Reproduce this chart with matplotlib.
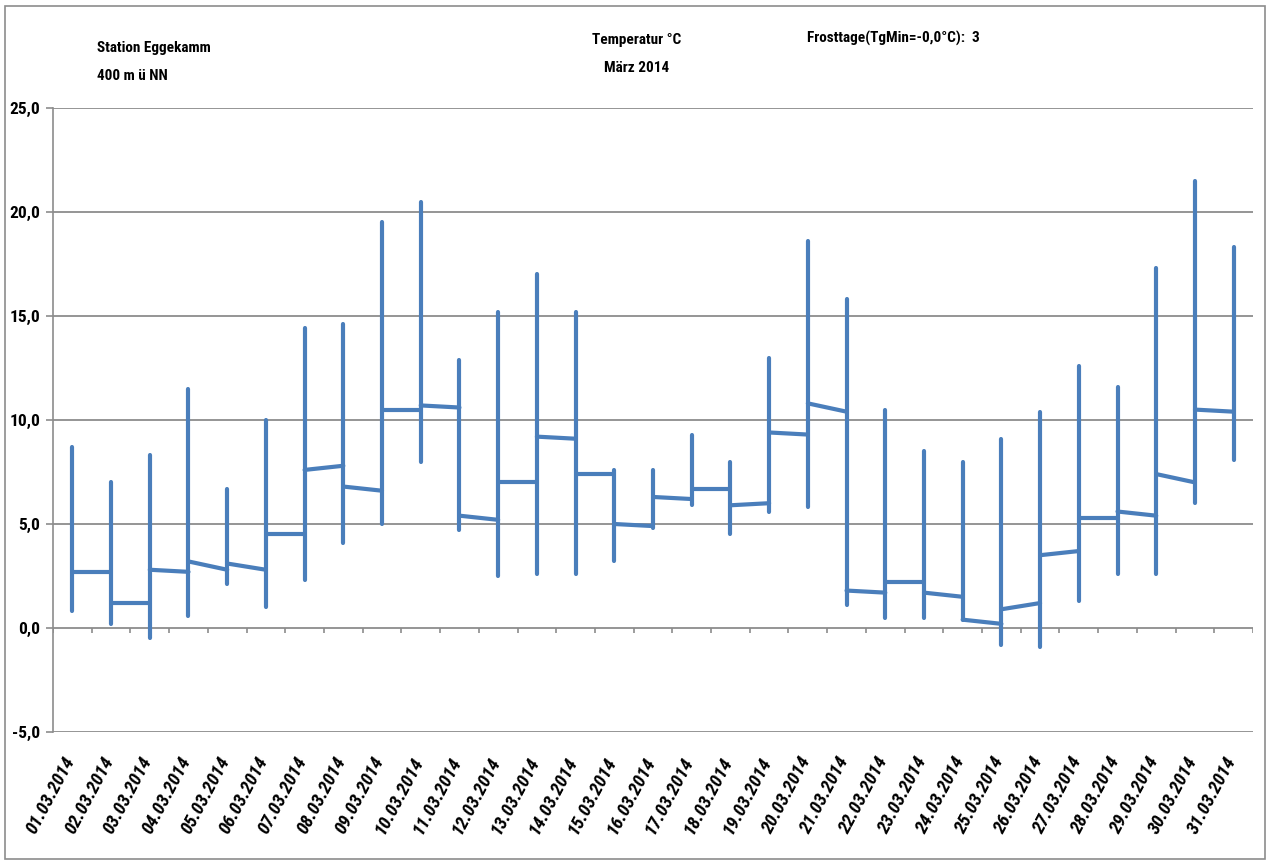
import matplotlib.pyplot as plt
import matplotlib.transforms as mtransforms
from matplotlib.patches import Rectangle

# daily values, Station Eggekamm, March 2014
dates = [f"{d:02d}.03.2014" for d in range(1, 32)]
t_max = [8.7, 7.0, 8.3, 11.5, 6.7, 10.0, 14.4, 14.6, 19.5, 20.5,
         12.9, 15.2, 17.0, 15.2, 7.6, 7.6, 9.3, 8.0, 13.0, 18.6,
         15.8, 10.5, 8.5, 8.0, 9.1, 10.4, 12.6, 11.6, 17.3, 21.5, 18.3]
t_min = [0.8, 0.2, -0.5, 0.6, 2.1, 1.0, 2.3, 4.1, 5.0, 8.0,
         4.7, 2.5, 2.6, 2.6, 3.2, 4.8, 5.9, 4.5, 5.6, 5.8,
         1.1, 0.5, 0.5, 0.4, -0.8, -0.9, 1.3, 2.6, 2.6, 6.0, 8.1]
# mean line: value at start of each segment and at its end (next day)
seg_start = [2.7, 1.2, 2.8, 3.2, 3.1, 4.5, 7.6, 6.8, 10.5, 10.7,
             5.4, 7.0, 9.2, 7.4, 5.0, 6.3, 6.7, 5.9, 9.4, 10.8,
             1.8, 2.2, 1.7, 0.4, 0.9, 3.5, 5.3, 5.6, 7.4, 10.5]
seg_end = [2.7, 1.2, 2.7, 2.8, 2.8, 4.5, 7.8, 6.6, 10.5, 10.6,
           5.2, 7.0, 9.1, 7.4, 4.9, 6.2, 6.7, 6.0, 9.3, 10.4,
           1.7, 2.2, 1.5, 0.2, 1.2, 3.7, 5.3, 5.4, 7.0, 10.4]
y_ticks = [-5, 0, 5, 10, 15, 20, 25]

plt.rcParams['font.family'] = ['Roboto Condensed', 'Liberation Sans', 'DejaVu Sans']

W, H = 1271, 861
fig = plt.figure(figsize=(W / 100, H / 100), dpi=100)
ax = fig.add_axes([53 / W, 1 - 732 / H, 1200 / W, 624 / H])

blue = '#4A7EBB'
grid = '#8C8C8C'
n = len(dates)
xs = list(range(n))

for y in y_ticks:
    ax.axhline(y, color=grid, lw=1.3, zorder=1)

# category tick marks on the zero line
bounds = [i - 0.5 for i in range(n + 1)]
ax.vlines(bounds, -0.25, 0, color=grid, lw=1.2, zorder=1)

ax.vlines(xs, t_min, t_max, color=blue, lw=3.0, zorder=3, capstyle='round')
for i in range(n - 1):
    ax.plot([i, i + 1], [seg_start[i], seg_end[i]], color=blue, lw=3.0,
            solid_capstyle='round', zorder=3)

ax.set_xlim(-0.5, n - 0.5)
ax.set_ylim(-5, 25)
ax.set_yticks(y_ticks)
ax.set_yticklabels([f"{v:.1f}".replace('.', ',') for v in y_ticks],
                   fontsize=12.5, fontweight='bold')
ax.tick_params(axis='y', length=5, color=grid, width=1.2, pad=4)

ax.set_xticks(xs)
ax.set_xticklabels(dates, rotation=62, ha='right', va='center',
                   rotation_mode='anchor', fontsize=13.5, fontweight='bold',
                   fontstyle='italic')
ax.tick_params(axis='x', length=0, pad=16)
for lab in ax.get_xticklabels():
    lab.set_transform(lab.get_transform() +
                      mtransforms.ScaledTranslation(-2 / 100, -4 / 100, fig.dpi_scale_trans))

for s in ['top', 'right', 'bottom']:
    ax.spines[s].set_visible(False)
ax.spines['left'].set_color(grid)
ax.spines['left'].set_linewidth(1.2)

title_kw = dict(fontsize=11, fontweight='bold', va='center')
fig.text(97 / W, 1 - 48 / H, "Station Eggekamm", **title_kw)
fig.text(97 / W, 1 - 76 / H, "400 m ü NN", **title_kw)
fig.text(637 / W, 1 - 40 / H, "Temperatur °C", ha='center', **title_kw)
fig.text(637 / W, 1 - 68 / H, "März 2014", ha='center', **title_kw)
fig.text(807 / W, 1 - 38 / H, "Frosttage(TgMin=-0,0°C):  3", **title_kw)

fig.add_artist(Rectangle((5 / W, 2 / H), 1260 / W, 853 / H, transform=fig.transFigure,
                         fill=False, ec=grid, lw=1.2))

fig.savefig("out.png", dpi=100, facecolor='white')
